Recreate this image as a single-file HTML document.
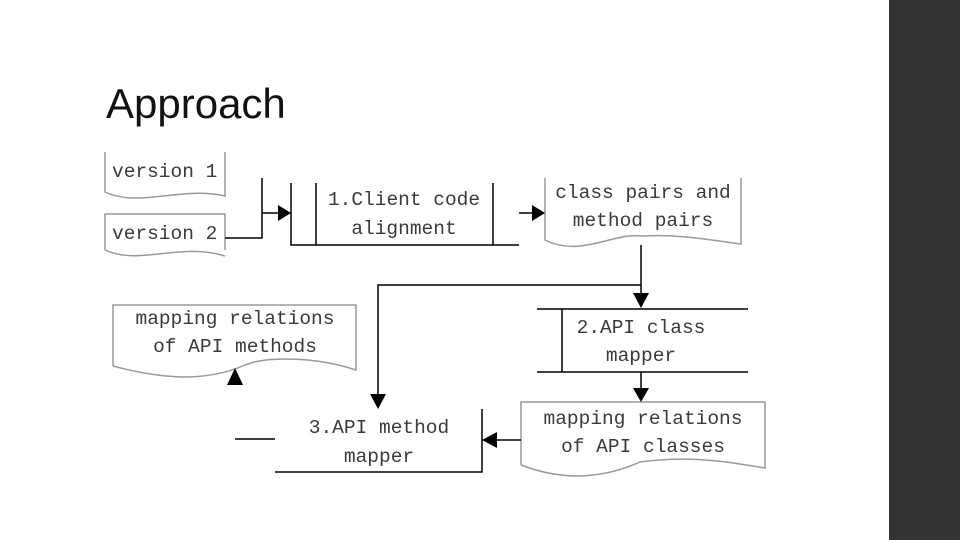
<!DOCTYPE html>
<html><head><meta charset="utf-8"><style>
html,body{margin:0;padding:0;background:#fff;}
body{width:960px;height:540px;overflow:hidden;position:relative;}
.bar{position:absolute;left:889px;top:0;width:71px;height:540px;background:#333;}
.title{position:absolute;left:106px;top:80px;font-family:"Liberation Sans",sans-serif;font-size:42px;color:#111;}
svg{position:absolute;left:0;top:0;}
text{font-family:"Liberation Mono","Noto Sans CJK SC",monospace;font-size:19.5px;fill:#3a3a3a;}
</style></head><body>
<div class="bar"></div>
<div class="title">Approach</div>
<svg width="960" height="540" viewBox="0 0 960 540">
<g fill="none" stroke="#999" stroke-width="1.5">
<path d="M105 152 V192 C140 208,180 186,225 196 V152"/>
<path d="M105 250 V214 H225 V250 M105 250 C140 266,180 242,225 256"/>
<path d="M545 178 V240 C580 258,615 232,641 236 C680 234,710 240,741 244 V178"/>
<path d="M113 366 V305 H356 V370 C320 358,270 355,245 365 C200 385,150 376,113 366"/>
<path d="M521 465 V402 H765 V468 C730 462,690 455,640 462 C600 480,560 480,521 465"/>
</g>
<g fill="none" stroke="#000" stroke-width="1.5">
<path d="M225 238 H262 V178 M262 213 H278"/>
<path d="M291 183 V245 H519 M316 183 V245 M493 183 V245"/>
<path d="M519 213 H532"/>
<path d="M641 245 V294"/>
<path d="M641 285 H378 V394"/>
<path d="M537 309 H748 M537 372 H748 M562 309 V372"/>
<path d="M641 372 V388"/>
<path d="M521 440 H497"/>
<path d="M482 409 V472 H275 M235 439 H275"/>
</g>
<g fill="#000">
<polygon points="278,205 291,213 278,221"/>
<polygon points="532,205 545,213 532,221"/>
<polygon points="633,293 649,293 641,308"/>
<polygon points="633,388 649,388 641,402"/>
<polygon points="370,394 386,394 378,409"/>
<polygon points="497,432 497,448 482,440"/>
<polygon points="227,385 243,385 235,368"/>
</g>
<text x="112" y="177">version 1</text>
<text x="112" y="239">version 2</text>
<text x="404" y="205" text-anchor="middle">1.Client code</text>
<text x="404" y="234" text-anchor="middle">alignment</text>
<text x="643" y="198" text-anchor="middle">class pairs and</text>
<text x="643" y="226" text-anchor="middle">method pairs</text>
<text x="641" y="333" text-anchor="middle">2.API class</text>
<text x="641" y="361" text-anchor="middle">mapper</text>
<text x="235" y="324" text-anchor="middle">mapping relations</text>
<text x="235" y="352" text-anchor="middle">of API methods</text>
<text x="643" y="424" text-anchor="middle">mapping relations</text>
<text x="643" y="452" text-anchor="middle">of API classes</text>
<text x="379" y="433" text-anchor="middle">3.API method</text>
<text x="379" y="462" text-anchor="middle">mapper</text>
</svg>
</body></html>
